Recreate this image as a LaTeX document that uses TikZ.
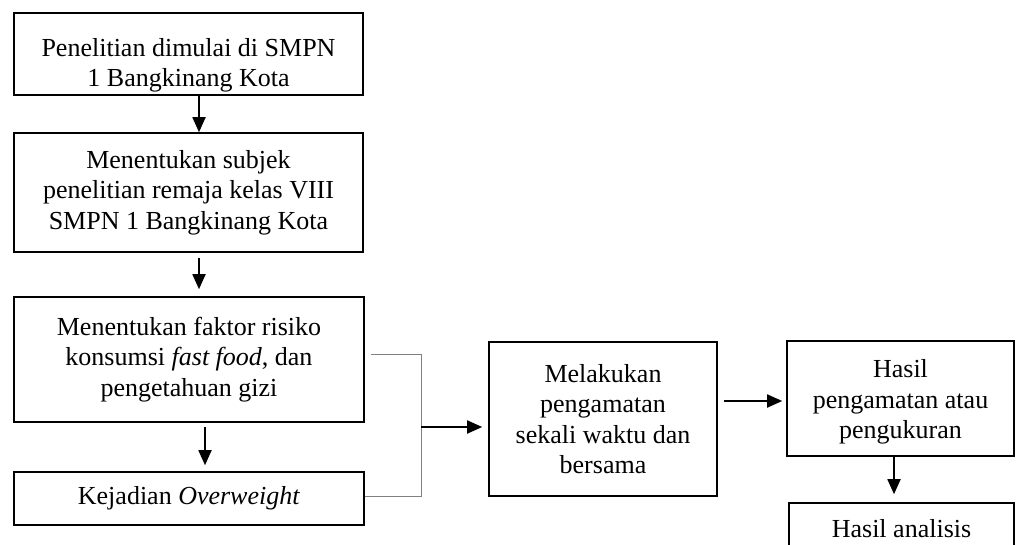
\documentclass[tikz,border=0pt]{standalone}
\usepackage{fontspec}
\setmainfont{Liberation Serif}
\usetikzlibrary{arrows.meta,positioning,calc}

\begin{document}
\begin{tikzpicture}[
        x=1pt, y=-1pt,
        font=\fontsize{26}{30.5}\selectfont,
        >={Triangle[length=15pt,width=13pt]},
        box/.style={rectangle,draw=black,line width=1.6pt,align=center,inner sep=0pt},
        arrow/.style={->,line width=1.8pt},
        bracket/.style={gray,line width=1pt}
    ]
        \useasboundingbox (0,0) rectangle (1016,545);
        \clip (0,0) rectangle (1016,545);

        \node[box,minimum width=349pt,minimum height=82pt] (mulai) at (188.5,54) {\rule{0pt}{41pt}Penelitian dimulai di SMPN\\1 Bangkinang Kota};
        \node[box,minimum width=349pt,minimum height=119pt] (subjek) at (188.5,192.5) {Menentukan subjek\\penelitian remaja kelas VIII\\SMPN 1 Bangkinang Kota};
        \node[box,minimum width=350pt,minimum height=125pt] (faktor) at (189,359.5) {Menentukan faktor risiko\\konsumsi \textit{fast food}, dan\\pengetahuan gizi};
        \node[box,minimum width=350pt,minimum height=53pt] (kejadian) at (189,498.5) {Kejadian \textit{Overweight}};
        \node[box,minimum width=228pt,minimum height=154pt] (amati) at (603,419) {Melakukan\\pengamatan\\sekali waktu dan\\bersama};
        \node[box,minimum width=227pt,minimum height=115pt] (hasil) at (900.5,398.5) {\rule{0pt}{25pt}Hasil\\pengamatan atau\\pengukuran};
        \node[box,minimum width=225pt,minimum height=52pt] (analisis) at (901.5,529) {Hasil analisis};

        \coordinate (temu) at (421,427);

        \draw[arrow] ([xshift=10.5pt]mulai.south) -- ([xshift=10.5pt]subjek.north);
        \draw[arrow,shorten <=5pt,shorten >=7pt] ([xshift=10.5pt]subjek.south) -- ([xshift=10pt]faktor.north);
        \draw[arrow,shorten <=4pt,shorten >=6pt] ([xshift=16pt]faktor.south) -- ([xshift=16pt]kejadian.north);
        \draw[bracket,shorten <=6pt] ([yshift=5.5pt]faktor.east) -| (temu);
        \draw[bracket] ([yshift=2.5pt]kejadian.east) -| (temu);
        \draw[arrow,shorten >=6pt] (temu) -- (temu -| amati.west);
        \draw[arrow,shorten <=6pt,shorten >=4pt] ([yshift=-2.5pt]amati.east |- hasil.west) -- ([yshift=-2.5pt]hasil.west);
        \draw[arrow,shorten >=8pt] ([xshift=-6.5pt]hasil.south) -- ([xshift=-6.5pt]hasil.south |- analisis.north);
    \end{tikzpicture}
\end{document}
